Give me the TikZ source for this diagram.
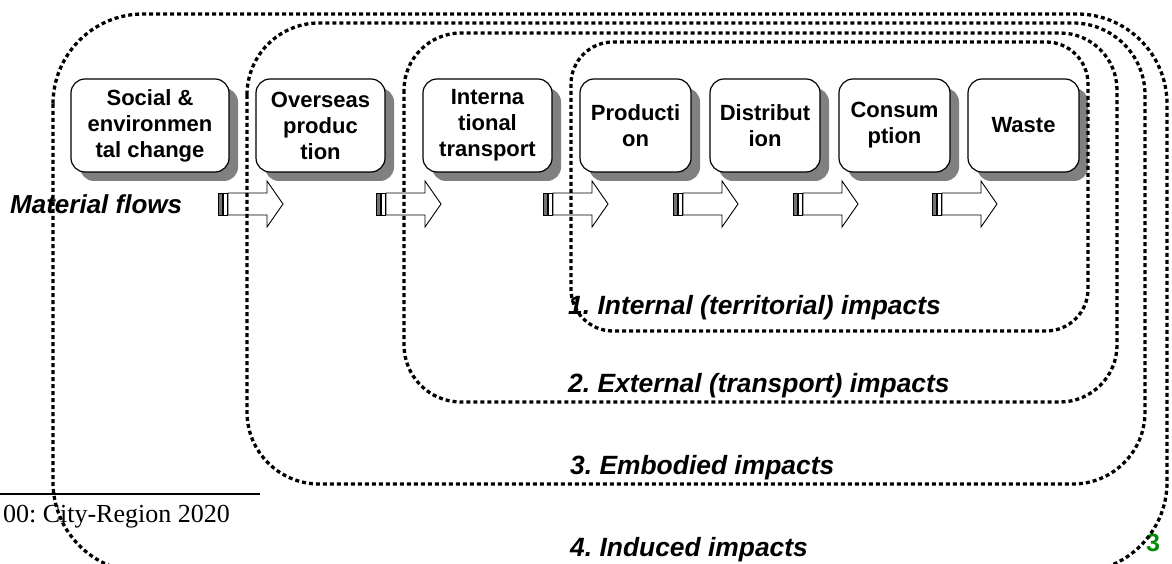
\documentclass[tikz,border=0pt]{standalone}
\usepackage{fontspec}
\setmainfont{Liberation Sans}
\newfontfamily\timesfont{Liberation Serif}
\usetikzlibrary{shadows}
\definecolor{shadowgray}{gray}{0.5}
\definecolor{stripegray}{gray}{0.45}
\definecolor{pagegreen}{RGB}{0,140,0}
\frenchspacing
\tikzset{
  stage/.style={draw=black, line width=1.2pt, fill=white, rounded corners=14pt,
    align=center, font=\fontsize{22}{26}\selectfont\bfseries, inner sep=0pt,
    minimum height=93pt,
    drop shadow={shadow xshift=9pt, shadow yshift=-9pt, fill=shadowgray, opacity=1}},
  frame/.style={draw=black, line width=3.3pt, dash pattern=on 4pt off 3pt},
  impact/.style={font=\fontsize{26.4}{30}\selectfont\bfseries\itshape, anchor=base west, inner sep=0pt},
  flowarrow/.pic={
    \draw[line width=0.8pt, fill=stripegray] (0,-11) rectangle (4,11);
    \draw[line width=0.8pt, fill=white] (5,-11) rectangle (9,11);
    \draw[line width=0.9pt, fill=white] (10,-11) -- (49,-11) -- (49,-23) -- (65,0)
      -- (49,23) -- (49,11) -- (10,11) -- cycle;
  }
}
\begin{document}
\begin{tikzpicture}[x=1pt,y=-1pt]
\useasboundingbox (0,0) rectangle (1172,564);
\clip (0,0) rectangle (1172,564);
\fill[white] (0,0) rectangle (1172,564);

% stages
\node[stage, minimum width=158pt] (social) at (150,125.5) {Social \&\\environmen\\tal change};
\node[stage, minimum width=129pt] (overseas) at (320.5,125.5) {Overseas\\produc\\tion};
\node[stage, minimum width=129pt] (intl) at (487.5,125.5) {Interna\\tional\\transport};
\node[stage, minimum width=111pt] (prod) at (635.5,125.5) {Producti\\on};
\node[stage, minimum width=110pt] (dist) at (765,125.5) {Distribut\\ion};
\node[stage, minimum width=111pt] (cons) at (894.5,125.5) {Consum\\ption};
\node[stage, minimum width=111pt] (waste) at (1023.5,125.5) {Waste};

% material flow arrows
\node[font=\fontsize{26}{30}\selectfont\bfseries\itshape, anchor=base west, inner sep=0pt] (flows) at (10,214) {Material flows};
\pic (a1) at (218,204) {flowarrow};
\pic (a2) at (376,204) {flowarrow};
\pic (a3) at (543,204) {flowarrow};
\pic (a4) at (673,204) {flowarrow};
\pic (a5) at (793,204) {flowarrow};
\pic (a6) at (932,204) {flowarrow};

% impact labels
\node[impact] (l1) at (568,314) {1. Internal (territorial) impacts};
\node[impact] (l2) at (568,392) {2. External (transport) impacts};
\node[impact] (l3) at (570,474) {3. Embodied impacts};
\node[impact] (l4) at (570,556) {4. Induced impacts};

% footnote
\coordinate (fnA) at (0,494);
\coordinate (fnB) at (260,494);
\draw[line width=1.3pt] (fnA) -- (fnB);
\node[font=\timesfont\fontsize{26}{30}\selectfont, anchor=base east, inner sep=0pt] (fn) at (230,522) {00: City-Region 2020};

% page number
\node[font=\fontsize{25}{30}\selectfont\bfseries, text=pagegreen, inner sep=0pt] (pg) at (1153,543) {3};

% impact frames
\draw[frame, rounded corners=42pt] (571,42) rectangle (1088,331);
\draw[frame, rounded corners=57pt] (404,33) rectangle (1117,402);
\draw[frame, rounded corners=72pt] (247,23) rectangle (1145,484);
\draw[frame, rounded corners=90pt] (53,14) rectangle (1167,572);
\end{tikzpicture}
\end{document}
